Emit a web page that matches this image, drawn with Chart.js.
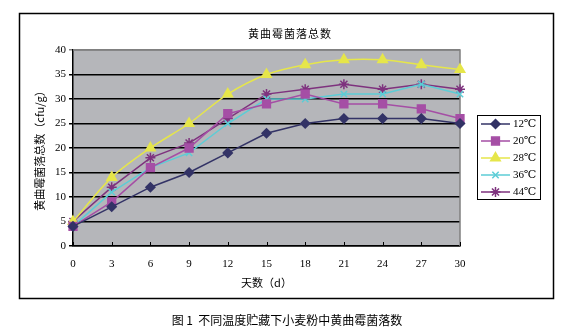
<!DOCTYPE html>
<html>
<head>
<meta charset="utf-8">
<script src="https://cdn.jsdelivr.net/npm/chart.js@4"></script>
<style>
  html, body { margin: 0; padding: 0; background: #fff; }
  #wrap { width: 575px; height: 329px; }
</style>
</head>
<body>
<div id="wrap"><canvas id="c" width="575" height="329"></canvas></div>
<script>
const days = ['0', '3', '6', '9', '12', '15', '18', '21', '24', '27', '30'];
const seriesNames = ['12℃', '20℃', '28℃', '36℃', '44℃'];
const t12 = [4, 8, 12, 15, 19, 23, 25, 26, 26, 26, 25];
const t20 = [4, 9, 16, 20, 27, 29, 31, 29, 29, 28, 26];
const t28 = [5, 14, 20, 25, 31, 35, 37, 38, 38, 37, 36];
const t36 = [4, 11, 16, 19, 25, 30, 30, 31, 31, 33, 31];
const t44 = [5, 12, 18, 21, 26, 31, 32, 33, 32, 33, 32];
const yTicks = [0, 5, 10, 15, 20, 25, 30, 35, 40];

const colors = ['#333366', '#a54ea5', '#e6e64a', '#5ccdd6', '#7e327e'];
const styles = ['rectRot', 'rect', 'triangle', 'crossRot', 'star'];
const radii = [4.5, 5.5, 5.5, 4.5, 5];
const values = [t12, t20, t28, t36, t44];

const serif = "'Liberation Serif', 'DejaVu Serif', serif";
const cjk = "'Noto Sans CJK SC', sans-serif";

// 背景、边框、标题、图例
const decor = {
  id: 'decor',
  beforeDraw(chart) {
    const { ctx, chartArea: a } = chart;
    ctx.save();
    ctx.fillStyle = '#fff';
    ctx.fillRect(0, 0, chart.width, chart.height);
    ctx.fillStyle = '#b5b6ba';
    ctx.fillRect(a.left, a.top, a.right - a.left, a.bottom - a.top);
    ctx.restore();
  },
  beforeDatasetsDraw(chart) {
    const { ctx, chartArea: a } = chart;
    ctx.save();
    ctx.strokeStyle = '#808080';
    ctx.lineWidth = 1.5;
    ctx.beginPath();
    ctx.moveTo(a.left, a.top);
    ctx.lineTo(a.right, a.top);
    ctx.lineTo(a.right, a.bottom);
    ctx.stroke();
    // x 轴刻度朝内
    const xs = chart.scales.x;
    ctx.strokeStyle = '#000';
    ctx.lineWidth = 1;
    xs.ticks.forEach((t, i) => {
      const px = Math.round(xs.getPixelForTick(i)) + 0.5;
      ctx.beginPath();
      ctx.moveTo(px, a.bottom);
      ctx.lineTo(px, a.bottom - 4);
      ctx.stroke();
    });
    ctx.restore();
  },
  afterDraw(chart) {
    const { ctx } = chart;
    ctx.save();
    // 外框
    ctx.strokeStyle = '#000';
    ctx.lineWidth = 1.5;
    ctx.strokeRect(19.5, 13.5, 534, 285);
    // 标题
    ctx.fillStyle = '#000';
    ctx.textAlign = 'center';
    ctx.textBaseline = 'middle';
    ctx.font = '11px ' + cjk;
    ctx.letterSpacing = '1px';
    ctx.fillText('黄曲霉菌落总数', 290, 34);
    ctx.letterSpacing = '0px';
    ctx.font = '12px ' + cjk;
    ctx.fillText('图 1  不同温度贮藏下小麦粉中黄曲霉菌落数', 287, 320);
    // 图例
    ctx.lineWidth = 1;
    ctx.strokeRect(477.5, 115.5, 63, 84);
    chart.data.datasets.forEach((ds, i) => {
      const y = 124 + i * 17;
      ctx.strokeStyle = ds.borderColor;
      ctx.fillStyle = ds.backgroundColor;
      ctx.lineWidth = 1.5;
      ctx.beginPath();
      ctx.moveTo(481, y);
      ctx.lineTo(510, y);
      ctx.stroke();
      Chart.helpers.drawPoint(ctx, {
        pointStyle: ds.pointStyle,
        radius: ds.pointRadius,
        rotation: 0,
        borderWidth: 1.5
      }, 495.5, y);
      ctx.fillStyle = '#000';
      ctx.textAlign = 'left';
      ctx.font = '11px ' + serif;
      ctx.fillText(ds.label, 513, y + 0.5);
    });
    ctx.restore();
  }
};

const datasets = seriesNames.map((name, i) => ({
  label: name,
  data: values[i],
  borderColor: colors[i],
  backgroundColor: colors[i],
  pointBackgroundColor: colors[i],
  pointBorderColor: colors[i],
  pointStyle: styles[i],
  pointRadius: radii[i],
  pointBorderWidth: 1.5,
  borderWidth: 1.5,
  tension: i === 2 ? 0.3 : 0,
  clip: false
}));

new Chart(document.getElementById('c'), {
  type: 'line',
  data: { labels: days, datasets: datasets },
  options: {
    responsive: false,
    animation: false,
    devicePixelRatio: 1,
    layout: { padding: { top: 50, right: 115, left: 29, bottom: 0 } },
    plugins: { legend: { display: false }, tooltip: { enabled: false } },
    scales: {
      x: {
        offset: false,
        grid: { display: false, drawTicks: false },
        border: { display: true, color: '#000', width: 1.5 },
        ticks: { color: '#000', padding: 12, maxRotation: 0, font: { family: serif, size: 11 } },
        title: { display: true, text: '天数（d）', color: '#000', padding: { top: 0, bottom: 40 }, font: { family: cjk, size: 11 } },
        afterFit(s) { s.height = 83; }
      },
      y: {
        min: 0,
        max: 40,
        afterBuildTicks(s) { s.ticks = yTicks.map(v => ({ value: v })); },
        grid: {
          color: ctx => (ctx.tick && ctx.tick.value === 40 ? '#808080' : '#000'),
          lineWidth: 1.5,
          tickLength: 4,
          drawTicks: true
        },
        border: { display: true, color: '#000', width: 1.5 },
        ticks: { color: '#000', padding: 3, font: { family: serif, size: 11 } },
        title: { display: true, text: '黄曲霉菌落总数（cfu/g）', color: '#000', padding: { top: 4, bottom: 0 }, font: { family: cjk, size: 11 } },
        afterFit(s) { s.width = 73 - 29; }
      }
    }
  },
  plugins: [decor]
});
</script>
</body>
</html>
